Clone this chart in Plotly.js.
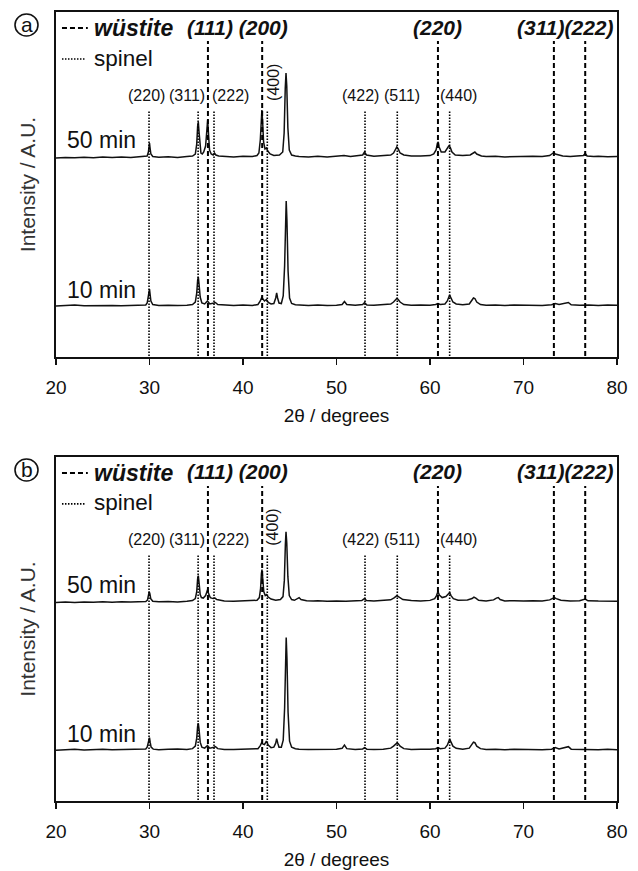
<!DOCTYPE html>
<html><head><meta charset="utf-8">
<script src="https://cdn.plot.ly/plotly-3.0.1.min.js"></script>
<style>html,body{margin:0;padding:0;background:#fff}</style>
</head><body><div id="chart" style="width:638px;height:871px"></div>
<script>
// ---------------- DATA ----------------
// 2θ (degrees) and intensity (arbitrary units, baseline = 0)
const panelA_50min = [[20,0],[21,0.5],[22,0.2],[23,0.8],[24,0.3],[25,1.1],[26,0.5],[27,0.9],[28,0.4],[29,1.0],[29.6,1.2],
 [29.75,2],[29.88,6],[29.95,13],[30.0,15],[30.06,10],[30.15,4],[30.35,1.5],
 [31,0.8],[32,1.2],[33,0.6],[34,1.4],[34.6,2],
 [34.9,4],[35.05,14],[35.15,32],[35.22,36],[35.3,26],[35.4,10],[35.5,5],[35.65,4],
 [35.8,6],[36.0,12],[36.12,30],[36.22,38],[36.3,26],[36.42,8],[36.6,4],
 [36.8,3],[36.95,5],[37.1,3],[37.4,2],[38,1.5],[39,1.1],[40,1.7],[41,1.4],[41.5,2.5],
 [41.7,5],[41.85,18],[41.95,40],[42.02,48],[42.1,36],[42.2,16],[42.35,9],
 [42.5,10],[42.65,7],[42.9,4],[43.3,2.5],[43.6,3],[43.9,3],
 [44.25,6],[44.4,25],[44.52,70],[44.6,85],[44.68,72],[44.8,30],[44.95,8],[45.2,3],[45.6,2],
 [46,1.4],[47,1.1],[48,1.7],[49,1.1],[50,1.5],[50.8,2.5],[51.5,1.4],[52.3,2],
 [52.8,3],[53.0,6],[53.2,3],[54,1.7],[55,2.1],[55.8,3],
 [56.1,5],[56.3,8],[56.45,11],[56.6,9],[56.8,5],[57.2,3],[58,2],[59,2.1],[60,2.4],[60.4,4],
 [60.65,8],[60.8,15],[60.88,16],[60.98,11],[61.2,6],[61.6,6],
 [61.85,9],[62.0,12],[62.15,11],[62.35,6],[62.7,3],[63.5,2.4],[64.3,3],
 [64.6,5],[64.8,6],[65.0,4],[65.5,2],[66,1.4],[67,1.7],[68,1.1],[69,1.5],[70,1.2],[71,1.7],[72,1.4],[72.8,2.5],
 [73.1,4.5],[73.25,5.5],[73.4,4],[73.7,3],[74.2,2],[75,1.4],[76,1.9],[76.4,2.5],
 [76.6,4.5],[76.8,2],[77.5,1.4],[78,1.7],[79,1.3],[80,1.4]];

const panelA_10min = [[20,0],[21,0.4],[22,1],[23,0.3],[24,0.6],[25,0.2],[26,0.5],[27,0.3],[28,0.7],[29,0.4],[29.6,1],
 [29.75,3],[29.88,9],[29.95,15],[30.0,17],[30.06,12],[30.15,5],[30.35,1.5],
 [31,0.5],[32,0.8],[33,0.4],[34,0.8],[34.6,1.5],
 [34.9,4],[35.05,13],[35.15,26],[35.22,29],[35.3,22],[35.42,9],[35.6,3],
 [35.9,2],[36.2,5],[36.45,2],
 [36.9,3],[37.05,3.5],[37.3,1.5],[38,0.8],[39,0.5],[40,0.9],[41,0.6],[41.6,1.5],
 [41.85,5],[42.0,8.5],[42.15,6],[42.3,5],[42.5,6.5],[42.7,3.5],[43.0,2],[43.3,2.5],
 [43.5,8],[43.6,13],[43.7,8],[43.85,3],[44.1,2.5],
 [44.3,10],[44.45,40],[44.55,90],[44.62,105],[44.7,85],[44.82,35],[44.98,8],[45.2,2.5],[45.6,1.2],
 [46,0.8],[47,0.5],[48,0.9],[49,0.4],[50,0.8],[50.6,1.5],
 [50.85,4.5],[51.1,1.5],[52,0.7],[52.8,1.5],
 [53.0,3.5],[53.25,1],[54,0.8],[55,1.2],[55.8,2],
 [56.1,4],[56.3,6],[56.45,7.5],[56.6,6.5],[56.8,4],[57.2,1.5],[58,0.8],[59,1],[60,0.7],[60.6,1.5],
 [60.85,2.5],[61.1,1.5],[61.6,2],
 [61.85,5],[62.0,10],[62.1,11],[62.25,8],[62.45,4],[62.8,2],[63.5,1.2],[64.2,2],
 [64.45,5],[64.65,8],[64.8,7.5],[65.0,4],[65.4,1.5],[66,0.7],[67,1],[68,0.5],[69,0.9],[70,0.6],[71,0.8],[72,0.5],[73,1.2],
 [73.4,2.5],[73.8,1.5],
 [74.8,3.5],[75.1,1.2],[76,0.7],[77,1],[78,0.5],[79,0.9],[80,0.7]];

const panelB_50min = [[20,0],[21,0.5],[22,0.1],[23,0.7],[24,0.3],[25,0.8],[26,0.4],[27,0.9],[28,0.5],[29,0.8],[29.6,1.1],
 [29.78,2.5],[29.9,7],[29.97,11],[30.04,9],[30.13,4],[30.35,1.3],
 [31,0.8],[32,1.1],[33,0.7],[34,1.3],[34.6,2],
 [34.9,4],[35.05,11],[35.15,24],[35.22,27],[35.3,20],[35.42,8],[35.55,5],
 [35.75,4.5],
 [36.0,7],[36.15,12],[36.22,13],[36.32,9],[36.5,5],
 [36.8,4],[37.0,4.5],[37.2,3],[37.6,2],[38,1.7],[39,1.3],[40,1.7],[41,1.5],[41.5,2.3],
 [41.75,5],[41.88,14],[41.97,29],[42.03,33],[42.1,25],[42.22,11],[42.38,7],
 [42.52,8],[42.7,5.5],[43.0,3.5],[43.5,2.3],[44.0,3],
 [44.28,6],[44.42,22],[44.53,58],[44.6,71],[44.68,60],[44.8,26],[44.95,7],[45.2,3],[45.5,2.3],
 [45.85,4],[46.0,5],[46.2,3],[46.8,1.8],[47.5,1.5],[48,1.9],[49,1.3],[50,1.7],[51,1.3],[52,1.7],[52.7,2],
 [53.0,4],[53.2,2],[54,1.7],[55,2.1],[55.8,2.8],
 [56.2,5],[56.45,7],[56.7,5.5],[57.1,3],[58,2],[59,1.7],[60,2.2],[60.5,4],
 [60.7,7],[60.85,11],[61.0,7.5],[61.3,5],[61.7,6],
 [61.95,9],[62.1,10],[62.25,7],[62.5,4],[63,2.3],[64,2.7],
 [64.5,4],[64.7,5.5],[64.9,4.5],[65.2,2.3],[66,1.7],[66.8,2.7],
 [67.1,4.5],[67.3,5],[67.5,3],[68,1.7],[69,1.9],[70,1.5],[71,1.9],[72,1.7],[72.8,2.7],
 [73.1,4],[73.3,5],[73.5,4],[74,2.3],[75,1.7],[76,1.9],[76.6,3.5],[76.9,1.8],[78,1.5],[79,1.7],[80,1.4]];

const panelB_10min = [[20,0],[21,0.3],[22,0.8],[23,0.2],[24,0.6],[25,0.9],[26,0.3],[27,0.5],[28,0.2],[29,0.7],[29.6,1.2],
 [29.75,3],[29.88,8],[29.95,12],[30.0,12.5],[30.07,8],[30.17,3],[30.4,1],
 [31,0.5],[32,0.8],[33,1.2],[34,0.7],[34.6,1.5],
 [34.9,4],[35.05,12],[35.15,24],[35.22,27],[35.3,21],[35.42,8],[35.6,3],
 [35.9,2],[36.2,4.5],[36.45,2],[36.9,3],[37.05,3.5],[37.3,1.5],[38,0.7],[39,0.6],[40,1],[41,0.7],[41.6,1.5],
 [41.85,4.5],[42.0,7.5],[42.15,6],[42.3,5.5],[42.5,9],[42.7,5],[43.0,2.5],[43.3,3],
 [43.5,7],[43.6,11.5],[43.72,7],[43.85,3],[44.1,3],
 [44.3,10],[44.45,42],[44.55,96],[44.62,113],[44.7,92],[44.82,38],[44.98,9],[45.2,3],[45.6,1.5],
 [46,1],[47,0.6],[48,0.9],[49,0.5],[50,0.8],[50.6,1.8],[50.85,5],[51.1,1.5],[52,0.6],[52.8,1.2],[53.0,2.5],[53.25,1],[54,0.6],[55,1],[55.8,2],
 [56.1,4],[56.3,6],[56.45,7],[56.6,6.5],[56.8,4],[57.2,1.5],[58,0.6],[59,0.9],[60,0.8],[60.6,1.5],[60.85,2.5],[61.1,1.5],[61.6,2],
 [61.85,5],[62.0,10],[62.1,11],[62.25,8],[62.45,4],[62.8,1.8],[63.5,1],[64.2,2],
 [64.45,5],[64.65,8],[64.8,7.5],[65.0,4],[65.4,1.5],[66,0.6],[67,0.8],[68,0.4],[69,0.8],[70,0.5],[71,0.9],[72,0.4],[73,1],
 [73.4,2.5],[73.8,1.2],[74.8,3.5],[75.1,1],[76,0.6],[77,0.9],[78,0.4],[79,0.8],[80,0.5]];

// reference reflections
const wustiteHKL = ['(111)','(200)','(220)','(311)','(222)'];
const wustitePos = [36.25, 42.05, 60.85, 73.25, 76.6];
const spinelHKL  = ['(220)','(311)','(222)','(400)','(422)','(511)','(440)'];
const spinelPos  = [29.95, 35.2, 36.9, 42.6, 53.05, 56.5, 62.1];

const sampleLabels = ['50 min', '10 min'];
const offset50 = 148;          // vertical stacking offset of the 50 min pattern
const xTicks = [20, 30, 40, 50, 60, 70, 80];

// ---------------- LAYOUT HELPERS ----------------
const FONT = 'Liberation Sans, Arial, Helvetica, sans-serif';
const W = 638, H = 871, ML = 56, MR = 21, MT = 12, MB = 70;
const PW = W - ML - MR, PH = H - MT - MB;
const pxX = p => (p - ML) / PW;
const pxY = p => (H - MB - p) / PH;
const YR = [-51, 294];
const wTop = 265, sTop = 196, lineBottom = -50;
const INK = '#111';

const traces = [];
const annotations = [];
const shapes = [];

function vlines(pos, top) {
  const xs = [], ys = [];
  pos.forEach(p => { xs.push(p, p, null); ys.push(lineBottom, top, null); });
  return {xs, ys};
}

function addPanel(idx, data50, data10, letter, dy) {
  const xa = idx === 0 ? 'x' : 'x2';
  const ya = idx === 0 ? 'y' : 'y2';
  const lineStyle = {color: INK, width: 1.5};
  const dashStyle = {color: '#000', width: 2, dash: '5px,3px'};
  const dotStyle = {color: '#000', width: 1.6, dash: '1.5px,1.5px'};
  traces.push({x: data50.map(d => d[0]), y: data50.map(d => d[1] + offset50),
    xaxis: xa, yaxis: ya, mode: 'lines', line: lineStyle, hoverinfo: 'skip'});
  traces.push({x: data10.map(d => d[0]), y: data10.map(d => d[1]),
    xaxis: xa, yaxis: ya, mode: 'lines', line: lineStyle, hoverinfo: 'skip'});
  const w = vlines(wustitePos, wTop);
  traces.push({x: w.xs, y: w.ys, xaxis: xa, yaxis: ya, mode: 'lines', line: dashStyle, hoverinfo: 'skip'});
  const s = vlines(spinelPos, sTop);
  traces.push({x: s.xs, y: s.ys, xaxis: xa, yaxis: ya, mode: 'lines', line: dotStyle, hoverinfo: 'skip'});
  // legend samples
  traces.push({x: [20.64, 23.4], y: [278, 278], xaxis: xa, yaxis: ya, mode: 'lines', line: dashStyle, hoverinfo: 'skip'});
  traces.push({x: [20.64, 23.2], y: [247, 247], xaxis: xa, yaxis: ya, mode: 'lines', line: dotStyle, hoverinfo: 'skip'});

  const F = (size) => ({family: FONT, size: size, color: INK});
  const A = (o) => Object.assign({xref: xa, yref: ya, showarrow: false, xanchor: 'center', yanchor: 'middle', font: F(16)}, o);
  annotations.push(A({text: '<b><i>wüstite</i></b>', x: 23.85, y: 278, xanchor: 'left', font: F(23)}));
  annotations.push(A({text: 'spinel', x: 23.85, y: 248, xanchor: 'left', font: F(22.5)}));
  // wüstite labels
  const wl = [{t: wustiteHKL[0] + ' ' + wustiteHKL[1], x: 39.4}, {t: wustiteHKL[2], x: 60.75}, {t: wustiteHKL[3] + wustiteHKL[4], x: 74.5}];
  wl.forEach(o => annotations.push(A({text: '<b><i>' + o.t + '</i></b>', x: o.x, y: 279, font: F(21)})));
  // spinel labels
  const sx = [29.73, 34.0, 38.7, null, 52.6, 57.0, 63.1];
  spinelHKL.forEach((t, i) => {
    if (i === 3) annotations.push(A({text: t, x: 43.2, y: 224, textangle: -90}));
    else annotations.push(A({text: t, x: sx[i], y: 211}));
  });
  annotations.push(A({text: sampleLabels[0], x: 21.0, y: offset50 + 18, xanchor: 'left', font: F(23)}));
  annotations.push(A({text: sampleLabels[1], x: 21.0, y: 16, xanchor: 'left', font: F(23)}));
  // circled panel letter
  annotations.push({text: letter, xref: 'paper', yref: 'paper', x: pxX(26.5), y: pxY(24 + dy), showarrow: false,
    xanchor: 'center', yanchor: 'middle', font: F(21)});
  shapes.push({type: 'circle', xref: 'paper', yref: 'paper', x0: pxX(15), x1: pxX(38), y0: pxY(36 + dy), y1: pxY(14 + dy),
    line: {color: INK, width: 1.6}});
}

addPanel(0, panelA_50min, panelA_10min, 'a', 0);
addPanel(1, panelB_50min, panelB_10min, 'b', 445);

const xaxisBase = {range: [20, 80], tickmode: 'array', tickvals: xTicks, ticktext: xTicks.map(String),
  ticks: 'outside', ticklen: 6, tickwidth: 1.6, tickcolor: INK, ticklabelstandoff: 6,
  showline: true, linewidth: 2.2, linecolor: INK, mirror: true, showgrid: false, zeroline: false,
  tickfont: {family: FONT, size: 19, color: INK},
  title: {text: '2θ / degrees', font: {family: FONT, size: 19, color: INK}, standoff: 12}};
const yaxisBase = {range: YR, showticklabels: false, ticks: '', showline: true, linewidth: 1.8, linecolor: INK,
  mirror: true, showgrid: false, zeroline: false,
  title: {text: 'Intensity / A.U.', font: {family: FONT, size: 21, color: '#333'}, standoff: 13}};

const layout = {
  width: W, height: H, margin: {l: ML, r: MR, t: MT, b: MB}, showlegend: false,
  paper_bgcolor: '#fff', plot_bgcolor: '#fff',
  xaxis: Object.assign({}, xaxisBase, {anchor: 'y'}),
  yaxis: Object.assign({}, yaxisBase, {domain: [pxY(357), pxY(12)], anchor: 'x'}),
  xaxis2: Object.assign({}, xaxisBase, {anchor: 'y2'}),
  yaxis2: Object.assign({}, yaxisBase, {domain: [pxY(801), pxY(457)], anchor: 'x2'}),
  annotations, shapes
};

Plotly.newPlot('chart', traces, layout, {staticPlot: true, displayModeBar: false});
</script></body></html>
